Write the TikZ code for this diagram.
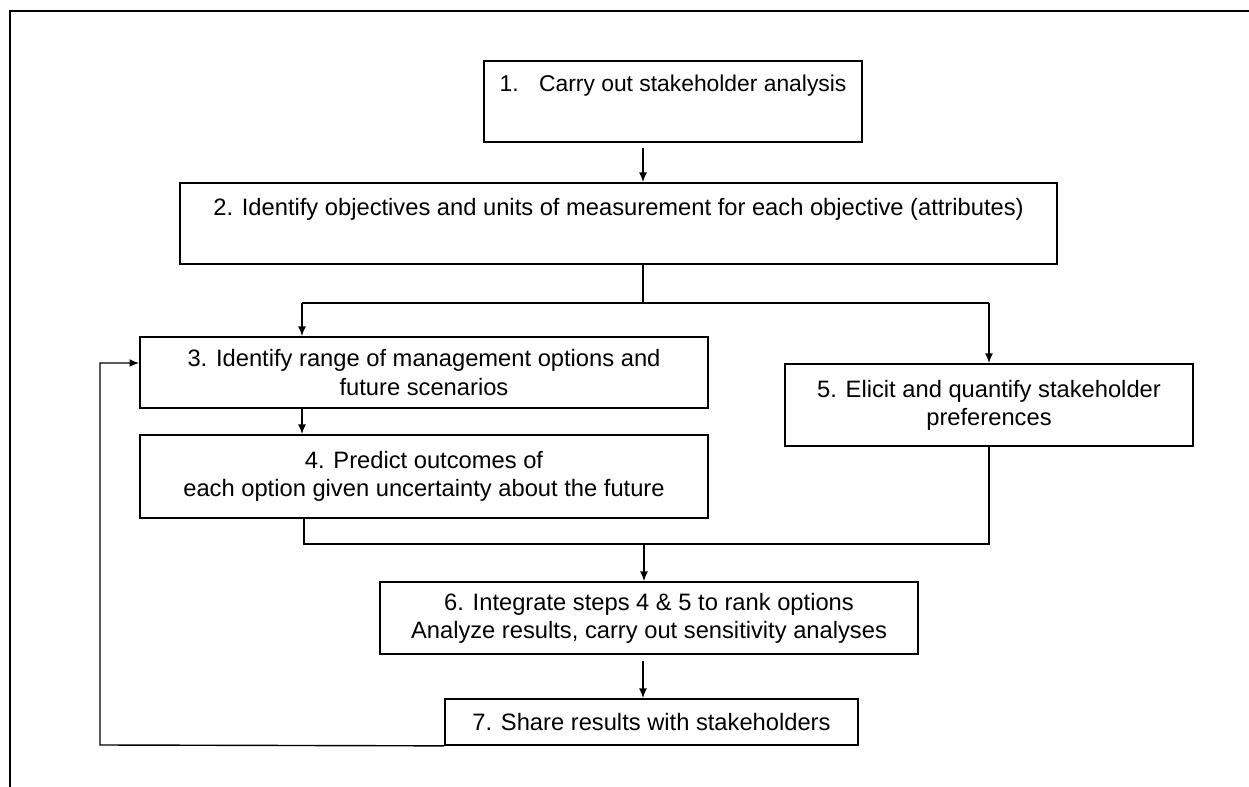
\documentclass[tikz,border=0pt]{standalone}
\usepackage{fontspec}
\setmainfont{Liberation Sans}
\usetikzlibrary{arrows.meta, positioning, calc}

\begin{document}
\begin{tikzpicture}[x=0.02cm, y=-0.02cm,
    stage/.style={rectangle, draw, line width=1pt, align=center, inner xsep=2pt, inner ysep=0pt, minimum width=#1, font=\fontsize{13.5}{16}\selectfont},
    arrow/.style={line width=0.8pt,-{Latex[length=5.5pt,width=4.5pt]}},
    link/.style={line width=0.8pt}]

    \useasboundingbox (0,0) rectangle (1249,787);
    \draw[line width=1.2pt] (10,787) -- (10,11) -- (1249,11);

    \node [stage=7.56cm, text height=0.62cm, text depth=1.0cm, font=\fontsize{13}{15}\selectfont] (s1) at (673,101.5) {1.\hspace{0.9em}Carry out stakeholder analysis};
    \node [stage=17.54cm, text height=0.64cm, text depth=0.98cm] (s2) at (618.5,223.5) {2. Identify objectives and units of measurement for each objective (attributes)};
    \node [stage=11.36cm, minimum height=1.42cm] (s3) at (424,372.5) {3. Identify range of management options and\\future scenarios};
    \node [stage=11.36cm, minimum height=1.66cm] (s4) at (424,476.5) {4. Predict outcomes of\\each option given uncertainty about the future};
    \node [stage=8.16cm, minimum height=1.64cm] (s5) at (989,405) {5. Elicit and quantify stakeholder\\preferences};
    \node [stage=10.76cm, minimum height=1.44cm] (s6) at (649,618) {6. Integrate steps 4 \& 5 to rank options\\Analyze results, carry out sensitivity analyses};
    \node [stage=8.26cm, minimum height=0.92cm] (s7) at (651.5,722) {7. Share results with stakeholders};

    \coordinate (spine) at (643,0);
    \coordinate (split) at (643,303);
    \coordinate (lbranch) at (302,303);
    \coordinate (lmerge) at (304,544);
    \coordinate (join) at (644,544);
    \coordinate (back) at (100,745);

    \draw [arrow] ([yshift=-0.1cm]s1.south -| spine) -- (s2.north -| spine);
    \draw [link] (s2.south -| spine) -- (split);
    \draw [link] (lbranch) -- (s5.north |- split);
    \draw [arrow] (lbranch) -- (lbranch |- s3.north);
    \draw [arrow] (s5.north |- split) -- (s5.north);
    \draw [arrow] (s3.south -| lbranch) -- (s4.north -| lbranch);
    \draw [link] (s4.south -| lmerge) -- (lmerge) -- (lmerge -| s5.south) -- (s5.south);
    \draw [arrow] (join) -- (s6.north -| join);
    \draw [arrow] ([yshift=-0.12cm]s6.south -| spine) -- (s7.north -| spine);
    \draw [arrow] (s7.south west) -- (back) |- ([yshift=0.19cm]s3.west);
\end{tikzpicture}
\end{document}
